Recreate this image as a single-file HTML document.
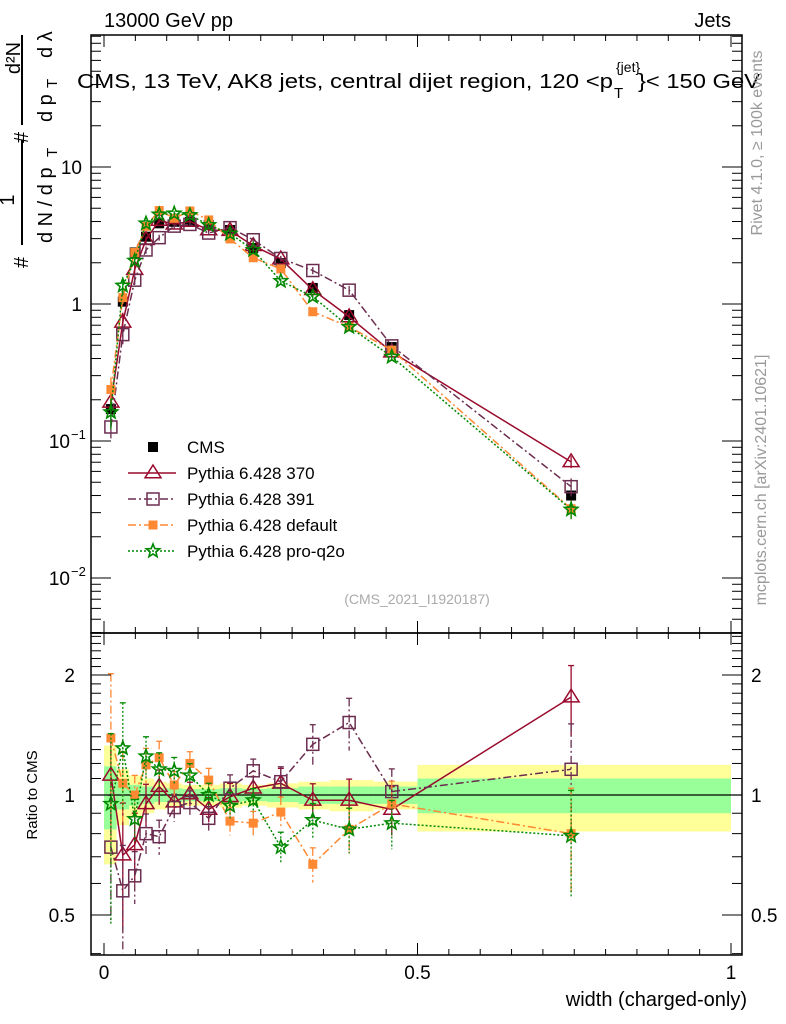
<!DOCTYPE html>
<html><head><meta charset="utf-8">
<style>
html,body{margin:0;padding:0;background:#fff;}
svg{display:block;font-family:"Liberation Sans",Arial,sans-serif;}
</style></head>
<body>
<svg id="chart" width="786" height="1024" viewBox="0 0 786 1024" xmlns="http://www.w3.org/2000/svg">
<g id="bands"></g>
<g id="marks"></g>
<g id="axes"></g>
<text x="104" y="27" font-size="20">13000 GeV pp</text>
<text x="731" y="27" font-size="20" text-anchor="end">Jets</text>
<text x="77" y="88" font-size="20" textLength="536" lengthAdjust="spacingAndGlyphs">CMS, 13 TeV, AK8 jets, central dijet region, 120 &lt;p</text>
<text x="614" y="98" font-size="15">T</text>
<text x="616" y="72" font-size="14">{jet}</text>
<text x="638" y="88" font-size="20" textLength="122" lengthAdjust="spacingAndGlyphs">}&lt; 150 GeV</text>
<text x="417" y="604" font-size="14" fill="#aaaaaa" text-anchor="middle">(CMS_2021_I1920187)</text>
<text transform="translate(762,143) rotate(-90)" font-size="16" fill="#999" text-anchor="middle">Rivet 4.1.0, ≥ 100k events</text>
<text transform="translate(766,480) rotate(-90)" font-size="16" fill="#999" text-anchor="middle">mcplots.cern.ch [arXiv:2401.10621]</text>
<g font-size="20">
 <text transform="translate(28,268) rotate(-90)">#</text>
 <text transform="translate(14,200) rotate(-90)" text-anchor="middle">1</text>
 <line x1="22" y1="245" x2="22" y2="140" stroke="#000" stroke-width="2"/>
 <text transform="translate(52,243) rotate(-90)">d N / d p</text>
 <text transform="translate(57,157) rotate(-90)" font-size="15">T</text>
 <text transform="translate(28,143) rotate(-90)">#</text>
 <line x1="22" y1="125" x2="22" y2="35" stroke="#000" stroke-width="2"/>
 <text transform="translate(20,58) rotate(-90)" text-anchor="middle">d²N</text>
 <text transform="translate(52,122) rotate(-90)">d p</text>
 <text transform="translate(57,88) rotate(-90)" font-size="15">T</text>
 <text transform="translate(52,58) rotate(-90)">d λ</text>
</g>
<text transform="translate(37,795) rotate(-90)" font-size="15" text-anchor="middle">Ratio to CMS</text>
<text x="747" y="1006" font-size="20" text-anchor="end">width (charged-only)</text>
<g id="legend"></g>
</svg>
<script>
const xs = [0.011,0.030,0.049,0.067,0.088,0.112,0.137,0.167,0.201,0.238,0.282,0.333,0.391,0.459,0.745];
const binLo = [0,0.02,0.04,0.06,0.08,0.1,0.125,0.15,0.185,0.22,0.26,0.31,0.36,0.43,0.5];
const binHi = [0.02,0.04,0.06,0.08,0.1,0.125,0.15,0.185,0.22,0.26,0.31,0.36,0.43,0.5,1.0];
const cmsVals = [0.171,1.04,2.38,3.1,3.88,3.98,3.98,3.77,3.47,2.56,1.99,1.31,0.83,0.485,0.040];
const bandOuter = [0.33,0.16,0.12,0.10,0.08,0.07,0.06,0.06,0.07,0.06,0.07,0.08,0.09,0.08,0.19];
const bandInner = [0.18,0.08,0.06,0.05,0.04,0.04,0.035,0.035,0.04,0.035,0.04,0.05,0.05,0.05,0.10];
const ratio370 = [1.12,0.707,0.75,0.95,1.05,0.96,1.006,0.92,0.99,1.04,1.07,0.97,0.97,0.92,1.76];
const err370 = [0.25,0.35,0.2,0.12,0.1,0.08,0.07,0.07,0.08,0.07,0.09,0.1,0.13,0.14,0.2];
const ratio391 = [0.74,0.575,0.627,0.8,0.786,0.93,0.957,0.874,1.04,1.15,1.08,1.34,1.52,1.02,1.16];
const err391 = [0.35,0.3,0.15,0.12,0.1,0.08,0.07,0.07,0.08,0.07,0.09,0.12,0.15,0.14,0.3];
const ratioDef = [1.39,1.07,1.0,1.19,1.24,1.06,1.2,1.09,0.86,0.85,0.906,0.67,0.82,0.95,0.80];
const errDef = [0.45,0.2,0.12,0.1,0.1,0.08,0.07,0.07,0.08,0.07,0.09,0.1,0.13,0.14,0.3];
const ratioQ2o = [0.95,1.31,0.87,1.25,1.16,1.15,1.12,1.0,0.94,0.97,0.74,0.865,0.82,0.85,0.79];
const errQ2o = [0.5,0.3,0.12,0.12,0.1,0.08,0.07,0.07,0.08,0.07,0.09,0.1,0.13,0.14,0.3];
const xTicksMajor = [0,0.5,1];
const xTickLabels = ["0","0.5","1"];
const yDecades = [0.01,0.1,1,10];
const yDecLabels = ["10","10","1","10"];
const yDecExps = ["−2","−1","",""];
const rTicksMajor = [0.5,1,2];
const rTickLabels = ["0.5","1","2"];

const NS="http://www.w3.org/2000/svg";
const L=91,R=742,T=35,MB=633,RB=955;
const X=v=>104+v*627;
const Y=v=>304-137*Math.log10(v);
const YR=r=>795-120*Math.log2(r);
function mk(tag,attrs,parent){const e=document.createElementNS(NS,tag);for(const k in attrs)e.setAttribute(k,attrs[k]);parent.appendChild(e);return e;}
const bands=document.getElementById('bands'),marks=document.getElementById('marks'),axes=document.getElementById('axes'),legend=document.getElementById('legend');

for(let i=0;i<xs.length;i++){
  const x1=X(binLo[i]),x2=X(binHi[i]);
  const o=mk('rect',{x:x1,y:YR(1+bandOuter[i]),width:x2-x1,height:YR(1-bandOuter[i])-YR(1+bandOuter[i]),fill:'#ffff99'},bands);
  
  
}
for(let i=0;i<xs.length;i++){
  const x1=X(binLo[i]),x2=X(binHi[i]);
  const n=mk('rect',{x:x1,y:YR(1+bandInner[i]),width:x2-x1,height:YR(1-bandInner[i])-YR(1+bandInner[i]),fill:'#99ff99'},bands);
  
  
}
mk('line',{x1:L,x2:R,y1:YR(1),y2:YR(1),stroke:'#000','stroke-width':1.3},bands);

function marker(type,cx,cy,color,g){
  if(type==='tri'){const s=8;mk('polygon',{points:`${cx},${cy-s} ${cx-s},${cy+s*0.6} ${cx+s},${cy+s*0.6}`,fill:'none',stroke:color,'stroke-width':1.5},g);}
  else if(type==='osq'){mk('rect',{x:cx-6,y:cy-6,width:12,height:12,fill:'none',stroke:color,'stroke-width':1.5},g);}
  else if(type==='fsq'){mk('rect',{x:cx-4.5,y:cy-4.5,width:9,height:9,fill:color},g);}
  else if(type==='bsq'){mk('rect',{x:cx-5,y:cy-5,width:10,height:10,fill:color},g);}
  else if(type==='star'){let p=[];for(let k=0;k<10;k++){const r=k%2?3:7,a=-Math.PI/2+k*Math.PI/5;p.push((cx+r*Math.cos(a)).toFixed(1)+','+(cy+r*Math.sin(a)).toFixed(1));}
    mk('polygon',{points:p.join(' '),fill:'none',stroke:color,'stroke-width':1.6},g);}
}
const series=[
 {name:'pythia-370',ratio:ratio370,err:err370,color:'#990a2c',dash:'',mk:'tri',label:'Pythia 6.428 370'},
 {name:'pythia-391',ratio:ratio391,err:err391,color:'#6b2d4f',dash:'8,3,2,3',mk:'osq',label:'Pythia 6.428 391'},
 {name:'pythia-default',ratio:ratioDef,err:errDef,color:'#ff8833',dash:'8,3,2,3',mk:'fsq',label:'Pythia 6.428 default'},
 {name:'pythia-pro-q2o',ratio:ratioQ2o,err:errQ2o,color:'#008800',dash:'2,2',mk:'star',label:'Pythia 6.428 pro-q2o'}
];
const cg=mk('g',{},marks);


for(let i=0;i<xs.length;i++){marker('bsq',X(xs[i]),Y(cmsVals[i]),'#000',cg);}
series.forEach(s=>{
  const g=mk('g',{},marks);
  
  
  const vals=cmsVals.map((c,i)=>c*s.ratio[i]);
  const pts=xs.map((x,i)=>X(x)+','+Y(vals[i])).join(' ');
  const pl=mk('polyline',{points:pts,fill:'none',stroke:s.color,'stroke-width':1.5},g);
  if(s.dash)pl.setAttribute('stroke-dasharray',s.dash);
  const pts2=xs.map((x,i)=>X(x)+','+YR(s.ratio[i])).join(' ');
  const pl2=mk('polyline',{points:pts2,fill:'none',stroke:s.color,'stroke-width':1.5},g);
  if(s.dash)pl2.setAttribute('stroke-dasharray',s.dash);
  for(let i=0;i<xs.length;i++){
    const cx=X(xs[i]);
    const e1=s.ratio[i]*(1+s.err[i]),e0=Math.max(0.3,s.ratio[i]*(1-s.err[i]));
    const el=mk('line',{x1:cx,x2:cx,y1:YR(e1),y2:Math.min(RB,YR(e0)),stroke:s.color,'stroke-width':1.3},g);
    if(s.dash)el.setAttribute('stroke-dasharray',s.dash);
    mk('line',{x1:cx-3,x2:cx+3,y1:YR(e1),y2:YR(e1),stroke:s.color,'stroke-width':1.3},g);
    mk('line',{x1:cx,x2:cx,y1:Y(vals[i]*(1+s.err[i]*0.5)),y2:Y(vals[i]*(1-s.err[i]*0.5)),stroke:s.color,'stroke-width':1.3},g);
    marker(s.mk,cx,Y(vals[i]),s.color,g);
    marker(s.mk,cx,YR(s.ratio[i]),s.color,g);
  }
});
const lrows=[{label:'CMS',mk:'bsq',color:'#000',dash:null}].concat(series);
lrows.forEach((s,k)=>{
  const y=447+26*k;
  const g=mk('g',{},legend);
  
  
  if(s.dash!==null){const l=mk('line',{x1:128,x2:176,y1:y,y2:y,stroke:s.color,'stroke-width':1.5},g);if(s.dash)l.setAttribute('stroke-dasharray',s.dash);}
  marker(s.mk,153,y,s.color,g);
  const t=mk('text',{x:187,y:y+6,'font-size':17},g);t.textContent=s.label;
});
mk('rect',{x:L,y:T,width:R-L,height:MB-T,fill:'none',stroke:'#000','stroke-width':1.5},axes);
mk('rect',{x:L,y:MB,width:R-L,height:RB-MB,fill:'none',stroke:'#000','stroke-width':1.5},axes);
for(let k=0;k<=20;k++){const v=k*0.05,x=X(v);const big=k%10===0;const len=big?12:6;
  [[T,1],[MB,-1],[MB,1],[RB,-1]].forEach(([y,d])=>mk('line',{x1:x,x2:x,y1:y,y2:y+d*len,stroke:'#000','stroke-width':1},axes));}
xTicksMajor.forEach((v,i)=>{const t=mk('text',{x:X(v),y:979,'font-size':19,'text-anchor':'middle'},axes);t.textContent=xTickLabels[i];});
for(let d=-3;d<=1;d++){for(let m=1;m<10;m++){const v=m*Math.pow(10,d);const y=Y(v);if(y<T||y>MB)continue;const len=m===1?20:10;
  mk('line',{x1:L,x2:L+len,y1:y,y2:y,stroke:'#000','stroke-width':1},axes);mk('line',{x1:R,x2:R-len,y1:y,y2:y,stroke:'#000','stroke-width':1},axes);}}
yDecades.forEach((v,i)=>{
  const t=mk('text',{x:yDecExps[i]?70:82,y:Y(v)+7,'font-size':19,'text-anchor':'end'},axes);
  t.textContent=yDecLabels[i];
  if(yDecExps[i]){const e=mk('text',{x:71,y:Y(v)-2,'font-size':13},axes);e.textContent=yDecExps[i];}
});
for(let k=4;k<=25;k++){const v=k/10;const y=YR(v);if(y<MB||y>RB)continue;const big=rTicksMajor.some(m=>Math.abs(m-v)<1e-6);const len=big?20:10;
  mk('line',{x1:L,x2:L+len,y1:y,y2:y,stroke:'#000','stroke-width':1},axes);mk('line',{x1:R,x2:R-len,y1:y,y2:y,stroke:'#000','stroke-width':1},axes);}
rTicksMajor.forEach((v,i)=>{const t=mk('text',{x:75,y:YR(v)+7,'font-size':19,'text-anchor':'end'},axes);t.textContent=rTickLabels[i];
  const t2=mk('text',{x:751,y:YR(v)+7,'font-size':19},axes);t2.textContent=rTickLabels[i];});
</script>
</body></html>
